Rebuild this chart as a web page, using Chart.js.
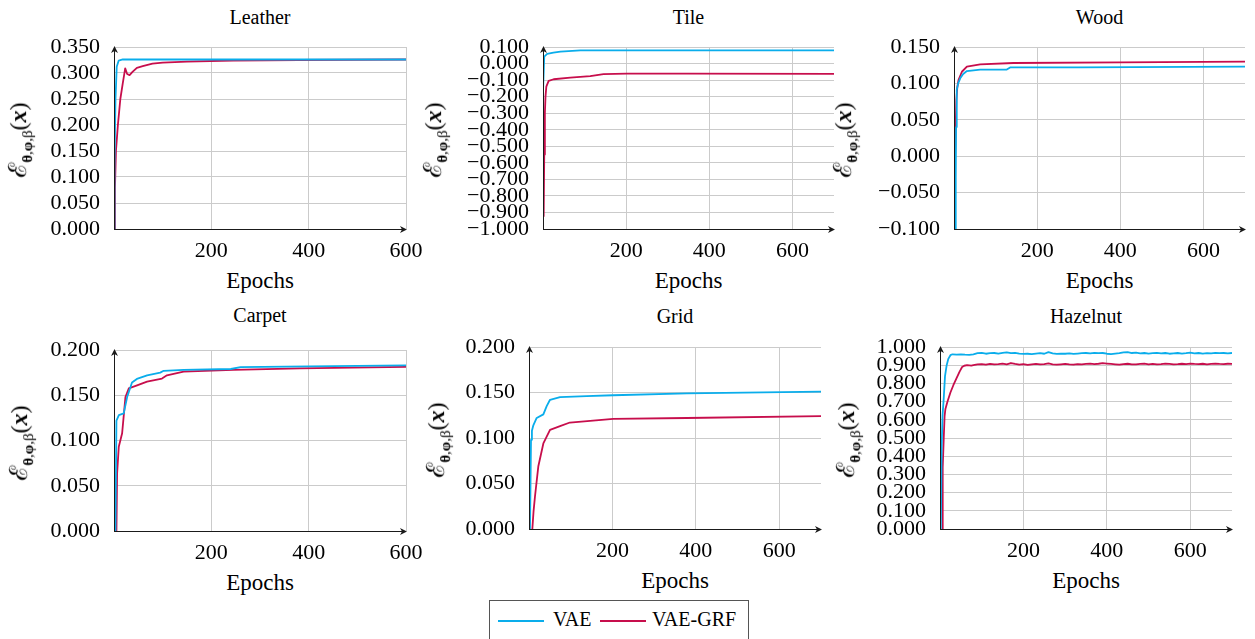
<!DOCTYPE html>
<html>
<head>
<meta charset="utf-8">
<script src="https://cdn.jsdelivr.net/npm/chart.js@4.4.1/dist/chart.umd.min.js"></script>
<style>
body{margin:0;background:#fff;width:1255px;height:639px;position:relative;overflow:hidden;font-family:'Liberation Serif',serif;color:#000}
canvas{position:absolute}
.title{position:absolute;font-size:20px;transform:translate(-50%,-50%);white-space:nowrap}
.xlab{position:absolute;font-size:23px;transform:translate(-50%,-50%);white-space:nowrap}
.ylab{position:absolute;font-size:24px;transform:translate(-50%,-50%) rotate(-90deg);white-space:nowrap;line-height:1}
.ylab .cal{font-size:25px}
.ylab sub{font-size:15px}
#legend{position:absolute;left:489px;top:600px;width:260px;height:50px;border:1px solid #555;box-sizing:border-box}
.lline{position:absolute;height:2px;top:19px}
.ltext{position:absolute;font-size:20px;top:7px}
</style>
</head>
<body>
<div id="legend">
  <div class="lline" style="left:8px;width:46px;background:#0AADEB"></div>
  <div class="ltext" style="left:63px">VAE</div>
  <div class="lline" style="left:110px;width:46px;background:#C70E4C"></div>
  <div class="ltext" style="left:162px">VAE-GRF</div>
</div>
<script>
'use strict';
const BLUE = '#0AADEB'
const RED = '#C70E4C'
const GRID = '#cbcbcb'

// epochs, value pairs
let leatherVae = [[0,0],[1,0.12],[3,0.248],[5.6,0.312],[9.7,0.324],[18,0.326],[100,0.326],[300,0.326],[600,0.326]]
let leatherGrf = [[1,0],[2,0.08],[4,0.15],[8,0.2],[13,0.25],[18,0.28],[23,0.309],[27,0.298],[32,0.296],[38,0.302],[47,0.31],[59,0.313],[79,0.318],[100,0.32],[150,0.322],[245,0.324],[380,0.325],[600,0.326]]
let tileVae = [[0,-0.17],[3,0.042],[10,0.058],[25,0.066],[42,0.072],[90,0.08],[300,0.08],[700,0.08]]
let tileGrf = [[1.6,-0.926],[3,-0.55],[4.5,-0.3],[6,-0.2],[8,-0.14],[13.6,-0.105],[25.6,-0.095],[65.6,-0.085],[113.6,-0.076],[145.6,-0.064],[201.6,-0.061],[345.6,-0.061],[700,-0.063]]
let woodVae = [[3.5,-0.1],[4.2,-0.03],[5,0.04],[6,0.075],[7.2,0.091],[10,0.1],[15,0.107],[22,0.113],[31,0.117],[63,0.119],[127,0.119],[135,0.122],[300,0.122],[700,0.123]]
let woodGrf = [[1.6,-0.03],[4,0.04],[5.6,0.077],[8,0.095],[11,0.105],[19,0.116],[31,0.123],[63,0.126],[143,0.128],[400,0.129],[700,0.13]]
let carpetVae = [[3,0],[5,0.122],[10,0.128],[20,0.13],[27,0.148],[37,0.164],[47,0.168],[68,0.172],[95,0.175],[102,0.177],[143,0.178],[240,0.179],[260,0.181],[400,0.182],[600,0.183]]
let carpetGrf = [[5,0],[6.4,0.064],[9.8,0.093],[16.7,0.108],[23.5,0.148],[30.3,0.1575],[47.4,0.161],[67.9,0.165],[98.6,0.1685],[108.8,0.172],[143,0.176],[245,0.178],[382,0.1796],[600,0.1814]]
let gridVae = [[2.4,0],[4.8,0.098],[7,0.108],[10.4,0.114],[18.4,0.122],[34.4,0.126],[42.4,0.135],[50.4,0.142],[74.4,0.145],[138,0.146],[202,0.147],[378,0.149],[700,0.151]]
let gridGrf = [[8,0],[11,0.02],[14.4,0.036],[22.4,0.069],[34.4,0.094],[50.4,0.109],[74.4,0.113],[98,0.117],[202,0.121],[378,0.122],[700,0.124]]
let hazelnutVae = [[2,0],[4,0.45],[6,0.62],[9,0.72],[12,0.84],[16,0.9],[20,0.935],[25,0.955],[30,0.96],[40,0.958],[50,0.96],[60,0.958],
  [70,0.957],[80,0.96],[90,0.966],[100,0.968],[110,0.963],[120,0.966],[130,0.967],[140,0.964],[150,0.968],[160,0.971],[170,0.966],[180,0.968],
  [190,0.964],[200,0.962],[210,0.963],[220,0.961],[230,0.964],[240,0.966],[250,0.963],[260,0.972],[270,0.965],[280,0.962],[290,0.964],[300,0.963],
  [310,0.965],[320,0.962],[330,0.964],[340,0.966],[350,0.967],[360,0.965],[370,0.968],[380,0.966],[390,0.967],[400,0.963],[410,0.961],[420,0.964],
  [430,0.966],[440,0.97],[450,0.972],[460,0.967],[470,0.969],[480,0.965],[490,0.967],[500,0.964],[510,0.966],[520,0.968],[530,0.965],[540,0.967],
  [550,0.963],[560,0.965],[570,0.967],[580,0.964],[590,0.966],[600,0.969],[610,0.965],[620,0.967],[630,0.964],[640,0.966],[650,0.965],[660,0.968],
  [670,0.966],[680,0.967],[690,0.965],[700,0.967]]
let hazelnutGrf = [[5,0],[6,0.2],[7,0.34],[9,0.5],[11,0.62],[13,0.66],[18,0.7],[25,0.75],[32,0.79],[40,0.83],[47,0.865],[53,0.89],[58,0.897],[65,0.9],[75,0.898],
  [80,0.901],[90,0.905],[100,0.906],[110,0.903],[120,0.907],[130,0.904],[140,0.906],[150,0.909],[160,0.905],[170,0.912],[180,0.907],[190,0.903],
  [200,0.906],[210,0.902],[220,0.905],[230,0.907],[240,0.904],[250,0.906],[260,0.91],[270,0.905],[280,0.903],[290,0.905],[300,0.907],[310,0.904],
  [320,0.903],[330,0.906],[340,0.905],[350,0.907],[360,0.909],[370,0.906],[380,0.908],[390,0.911],[400,0.909],[410,0.907],[420,0.905],[430,0.903],
  [440,0.906],[450,0.908],[460,0.905],[470,0.904],[480,0.907],[490,0.909],[500,0.905],[510,0.907],[520,0.904],[530,0.906],[540,0.909],[550,0.907],
  [560,0.905],[570,0.906],[580,0.908],[590,0.906],[600,0.909],[610,0.907],[620,0.906],[630,0.908],[640,0.905],[650,0.907],[660,0.909],[670,0.907],
  [680,0.906],[690,0.908],[700,0.907]]

// tick values
let xTicks = [200, 400, 600]
let leatherTicks = [0, 0.05, 0.1, 0.15, 0.2, 0.25, 0.3, 0.35]
let tileTicks = [-1, -0.9, -0.8, -0.7, -0.6, -0.5, -0.4, -0.3, -0.2, -0.1, 0, 0.1]
let woodTicks = [-0.1, -0.05, 0, 0.05, 0.1, 0.15]
let carpetTicks = [0, 0.05, 0.1, 0.15, 0.2]
let gridTicks = [0, 0.05, 0.1, 0.15, 0.2]
let hazelnutTicks = [0, 0.1, 0.2, 0.3, 0.4, 0.5, 0.6, 0.7, 0.8, 0.9, 1]

let panels = [
  {title: 'Leather', vae: leatherVae, grf: leatherGrf, yTicks: leatherTicks, xMax: 600, left: 114, top: 47, w: 292, h: 182, ylabX: 20, titleY: 17},
  {title: 'Tile', vae: tileVae, grf: tileGrf, yTicks: tileTicks, xMax: 700, left: 543, top: 47, w: 291, h: 182, ylabX: 435, titleY: 17},
  {title: 'Wood', vae: woodVae, grf: woodGrf, yTicks: woodTicks, xMax: 700, left: 954, top: 47, w: 291, h: 182, ylabX: 845, titleY: 17},
  {title: 'Carpet', vae: carpetVae, grf: carpetGrf, yTicks: carpetTicks, xMax: 600, left: 114, top: 350, w: 292, h: 181, ylabX: 21, titleY: 315},
  {title: 'Grid', vae: gridVae, grf: gridGrf, yTicks: gridTicks, xMax: 700, left: 529, top: 347, w: 292, h: 182, ylabX: 438, titleY: 316},
  {title: 'Hazelnut', vae: hazelnutVae, grf: hazelnutGrf, yTicks: hazelnutTicks, xMax: 700, left: 940, top: 347, w: 292, h: 182, ylabX: 848, titleY: 316}
]

const L = 90, T = 16, R = 26, B = 30
const tickFont = {family: "'Liberation Serif', serif", size: 22}

function arrowHead(ctx, x, y, dir){
  ctx.beginPath()
  if(dir === 'up'){
    ctx.moveTo(x, y); ctx.lineTo(x - 3.5, y + 7); ctx.lineTo(x, y + 5); ctx.lineTo(x + 3.5, y + 7)
  } else {
    ctx.moveTo(x, y); ctx.lineTo(x - 7, y - 3.5); ctx.lineTo(x - 5, y); ctx.lineTo(x - 7, y + 3.5)
  }
  ctx.closePath()
  ctx.fill()
}

const axisArrows = {
  id: 'axisArrows',
  afterDatasetsDraw(chart){
    let a = chart.chartArea
    let ctx = chart.ctx
    ctx.save()
    ctx.strokeStyle = '#1a1a1a'
    ctx.fillStyle = '#1a1a1a'
    ctx.lineWidth = 1
    ctx.beginPath()
    ctx.moveTo(a.left + 0.5, a.bottom)
    ctx.lineTo(a.left + 0.5, a.top + 2)
    ctx.moveTo(a.left, a.bottom + 0.5)
    ctx.lineTo(a.right - 2, a.bottom + 0.5)
    ctx.stroke()
    arrowHead(ctx, a.left + 0.5, a.top - 1, 'up')
    arrowHead(ctx, a.right + 1, a.bottom + 0.5, 'right')
    ctx.restore()
  }
}

function toPoints(pairs){
  return pairs.map(p => ({x: p[0], y: p[1]}))
}

function fmt(v){
  return v.toFixed(3).replace('-', '\u2212')
}

function addText(cls, html, x, y){
  let d = document.createElement('div')
  d.className = cls
  d.innerHTML = html
  d.style.left = x + 'px'
  d.style.top = y + 'px'
  document.body.appendChild(d)
}

for(let i = 0; i < panels.length; i++){
  let p = panels[i]
  let cv = document.createElement('canvas')
  cv.width = L + p.w + R
  cv.height = T + p.h + B
  cv.style.left = (p.left - L) + 'px'
  cv.style.top = (p.top - T) + 'px'
  document.body.appendChild(cv)

  new Chart(cv, {
    type: 'line',
    data: {
      datasets: [
        {label: 'VAE', data: toPoints(p.vae), borderColor: BLUE, borderWidth: 1.8, pointRadius: 0, borderJoinStyle: 'round'},
        {label: 'VAE-GRF', data: toPoints(p.grf), borderColor: RED, borderWidth: 1.8, pointRadius: 0, borderJoinStyle: 'round'}
      ]
    },
    options: {
      animation: false,
      responsive: false,
      layout: {padding: {left: 0, top: T, right: R, bottom: 0}},
      plugins: {legend: {display: false}, tooltip: {enabled: false}},
      scales: {
        x: {
          type: 'linear', min: 0, max: p.xMax,
          afterBuildTicks: s => { s.ticks = xTicks.map(v => ({value: v})) },
          afterFit: s => { s.height = B; s.paddingLeft = 0; s.paddingRight = 0 },
          grid: {color: GRID, drawTicks: false},
          border: {display: false},
          ticks: {font: tickFont, color: '#000', padding: 9, maxRotation: 0, autoSkip: false, callback: v => String(v)}
        },
        y: {
          type: 'linear', min: p.yTicks[0], max: p.yTicks[p.yTicks.length - 1],
          afterBuildTicks: s => { s.ticks = p.yTicks.map(v => ({value: v})) },
          afterFit: s => { s.width = L; s.paddingTop = 0; s.paddingBottom = 0 },
          grid: {color: GRID, drawTicks: false},
          border: {display: false},
          ticks: {font: tickFont, color: '#000', padding: 14, autoSkip: false, callback: v => fmt(v)}
        }
      }
    },
    plugins: [axisArrows]
  })

  addText('title', p.title, p.left + p.w / 2, p.titleY)
  addText('xlab', 'Epochs', p.left + p.w / 2, p.top + p.h + 51.5)
  addText('ylab', '<span class="cal">\u2130</span><sub><b>\u03B8</b>,<b>\u03C6</b>,\u03B2</sub>(<b><i>x</i></b>)', p.ylabX, p.top + p.h / 2 + 2)
}
</script>
</body>
</html>
